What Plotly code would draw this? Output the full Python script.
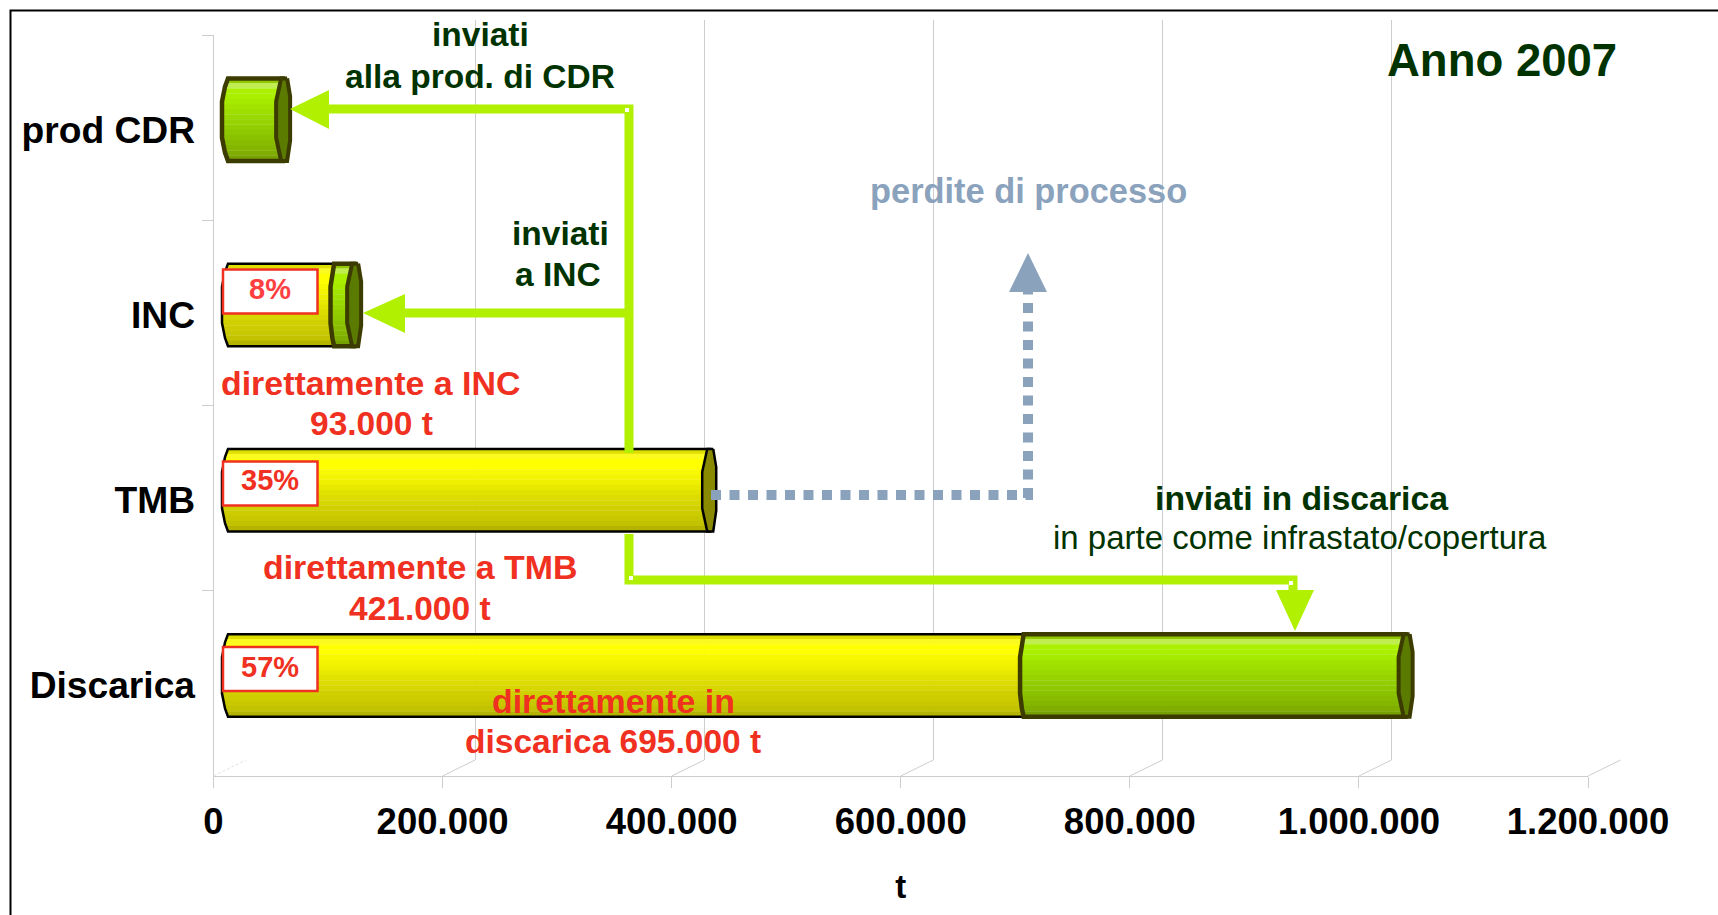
import numpy as np
import plotly.graph_objects as go

W, H = 1718, 915
categories = ["Discarica", "TMB", "INC", "prod CDR"]
direct_values = [695000, 421000, 93000, 0]
sent_values = [334000, 0, 18000, 49000]
x_ticks = [0, 200000, 400000, 600000, 800000, 1000000, 1200000]
x_labels = ["0", "200.000", "400.000", "600.000", "800.000", "1.000.000", "1.200.000"]
share_labels = ["57%", "35%", "8%"]
yellow_bands = ['#dede00','#fafa20','#ffff00','#ffff00','#f8f800','#f4f400','#efef00','#e8e800',
                '#e2e200','#dcdc00','#d6d600','#d0d000','#cccc00','#c8c800','#c2c200','#b4b400']
green_bands = ['#92c800','#c0ee50','#aaf000','#aaef00','#a6ea00','#a2e400','#9edf00','#9ad900',
               '#96d300','#92cd00','#8ec800','#8ac200','#88bc00','#84b600','#80ae00','#76a000']

XMAX = 1200000
XLEAD = 20000             # room left of zero so that the rounded bar ends are not clipped
PX_X = XMAX / 1374.5      # value per pixel along the value axis
PX_Y = 4 / 741.0          # category units per pixel
BAR_H = 82.5 * PX_Y
FONT = "Liberation Sans"
DARK = "#003300"
RED = "#f03020"
LIME = "#b0f000"
SLATE = "#8aa2bc"
GRID = "#cdcdcd"


def px(v):
    return v / W


def py(v):
    return 1 - v / H


def dom_x(a, b):
    return [a / W, b / W]


def dom_y(top, bottom):
    return [1 - bottom / H, 1 - top / H]


def edge_off(t, scale=1.0):
    return float(np.interp(t, [0, .1, .28, .72, .9, 1], [1, -2, -5, -5, -2, 1])) * scale * PX_X


def joint_scale(start):
    # the joint between two stacked segments bulges less than the far left end
    return 0.6 if start > 0 else 1.0


fig = go.Figure()

# back wall grid subplot and front axes subplot
fig.add_trace(go.Scatter(x=x_ticks, y=[0] * len(x_ticks), mode="none", xaxis="x", yaxis="y",
                         hoverinfo="skip", showlegend=False))
fig.add_trace(go.Scatter(x=[0] * 4, y=categories, mode="none", xaxis="x2", yaxis="y2",
                         hoverinfo="skip", showlegend=False))

n = len(yellow_bands)
for i in range(n):
    tc = (i + .5) / n
    off = BAR_H / 2 - (i + 1) / n * BAR_H
    idx = [k for k, v in enumerate(direct_values) if v > 0]
    bases = [edge_off(tc) for k in idx]
    fig.add_trace(go.Bar(
        orientation="h", y=idx, base=bases,
        x=[direct_values[k] - b for k, b in zip(idx, bases)],
        width=BAR_H / n + PX_Y * .3, offset=off, marker=dict(color=yellow_bands[i], line_width=0),
        xaxis="x3", yaxis="y3", hoverinfo="skip", showlegend=False, cliponaxis=False))
for i in range(n):
    tc = (i + .5) / n
    off = BAR_H / 2 - (i + 1) / n * BAR_H
    idx = [k for k, v in enumerate(sent_values) if v > 0]
    insets = [edge_off(tc, joint_scale(direct_values[k])) for k in idx]
    fig.add_trace(go.Bar(
        orientation="h", y=idx, base=[direct_values[k] + b for k, b in zip(idx, insets)],
        x=[sent_values[k] - b for k, b in zip(idx, insets)],
        width=BAR_H / n + PX_Y * .3, offset=off, marker=dict(color=green_bands[i], line_width=0),
        xaxis="x3", yaxis="y3", hoverinfo="skip", showlegend=False, cliponaxis=False))


def outline(k, start, end, color, width):
    ts = [1, .9, .72, .28, .1, 0]
    sc = joint_scale(start)
    xs = [end + 2 * PX_X] + [start + edge_off(t, sc) for t in ts] + [end + 2 * PX_X]
    ys = [k + BAR_H / 2 - 1 * BAR_H] + [k + BAR_H / 2 - t * BAR_H for t in ts] + [k + BAR_H / 2]
    fig.add_trace(go.Scatter(x=xs, y=ys, mode="lines", line=dict(color=color, width=width),
                             xaxis="x3", yaxis="y3", hoverinfo="skip", showlegend=False,
                             cliponaxis=False))


def cap(k, end, fill, color, width):
    pts = [(4, 0), (7, .22), (7, .75), (4, 1), (-2, 1), (-7, .72), (-7, .28), (-2, 0), (4, 0)]
    xs = [end + p[0] * PX_X for p in pts]
    ys = [k + BAR_H / 2 - p[1] * BAR_H for p in pts]
    fig.add_trace(go.Scatter(x=xs, y=ys, mode="lines", fill="toself", fillcolor=fill,
                             line=dict(color=color, width=width), xaxis="x3", yaxis="y3",
                             hoverinfo="skip", showlegend=False, cliponaxis=False))


for k in range(4):
    d, s = direct_values[k], sent_values[k]
    if d > 0:
        outline(k, 0, d, "#000000", 2.5)
    if s > 0:
        outline(k, d, d + s, "#3c3c00", 4.5)
        cap(k, d + s, "#5a7a00", "#3c3c00", 4)
    else:
        cap(k, d, "#8a8a00", "#000000", 2.5)

shapes = []


def poly(points, color, width, dash=None):
    d = "M" + " L".join(f"{px(a):.6f},{py(b):.6f}" for a, b in points)
    line = dict(color=color, width=width)
    if dash:
        line["dash"] = dash
    shapes.append(dict(type="path", path=d, xref="paper", yref="paper", line=line, layer="above"))


def tri(points, color):
    d = "M" + " L".join(f"{px(a):.6f},{py(b):.6f}" for a, b in points) + " Z"
    shapes.append(dict(type="path", path=d, xref="paper", yref="paper", fillcolor=color,
                       line=dict(width=0), layer="above"))


def dot(a, b, s=4):
    shapes.append(dict(type="rect", xref="paper", yref="paper", x0=px(a - s / 2), x1=px(a + s / 2),
                       y0=py(b + s / 2), y1=py(b - s / 2), fillcolor="white", line=dict(width=0),
                       layer="above"))


# frame
poly([(W, 10.5), (10.5, 10.5), (10.5, H)], "#000000", 2)
# floor diagonals between front axis and back wall
for i, t in enumerate(x_ticks):
    fx = 213.5 + i * 229.1
    poly([(fx, 776), (fx + 32.5, 760)], "#e4e4e4" if i == 0 else GRID, 1, "3px,2px" if i == 0 else None)

# connectors
poly([(328, 109), (629, 109), (629, 453)], LIME, 9)
poly([(405, 313), (629, 313)], LIME, 9)
poly([(629, 534), (629, 580), (1293, 580), (1293, 592)], LIME, 9)
tri([(290, 109), (329, 90), (329, 129)], LIME)
tri([(363, 313), (405, 294), (405, 333)], LIME)
tri([(1295, 631), (1276, 590), (1314, 590)], LIME)
dot(631, 578)
dot(1291, 583)
dot(627, 110)
poly([(711, 495), (1033, 495)], SLATE, 10, "10px,8.5px")
poly([(1028, 498), (1028, 292)], SLATE, 10, "10px,8.5px")
tri([(1028, 253), (1009, 292), (1047, 292)], SLATE)

annotations = []


def note(text, a, b, size, color, bold=True, **kw):
    annotations.append(dict(text=text, x=px(a), y=py(b), xref="paper", yref="paper",
                            xanchor="center", yanchor="middle", showarrow=False,
                            font=dict(family=FONT, size=size, color=color,
                                      weight="bold" if bold else "normal"), **kw))


note("Anno 2007", 1502, 61, 45.5, DARK)
note("inviati", 480, 34, 33.5, DARK)
note("alla prod. di CDR", 480, 76, 33.5, DARK)
note("inviati", 560, 233, 33.5, DARK)
note("a INC", 558, 274, 33.5, DARK)
note("perdite di processo", 1028, 191, 34.4, SLATE)
note("direttamente a INC", 370, 383, 33.9, RED)
note("93.000 t", 371, 424, 33.5, RED)
note("direttamente a TMB", 420, 567, 33.9, RED)
note("421.000 t", 420, 608, 33.5, RED)
note("direttamente in", 613.5, 701, 33.9, RED)
note("discarica 695.000 t", 612.5, 741.5, 33.5, RED)
note("inviati in discarica", 1301.5, 498.5, 33.8, DARK)
note("in parte come infrastato/copertura", 1299.5, 537.5, 33, DARK, bold=False)

# share boxes: white rectangle with a red border, then its label
box_y = [669, 483.5, 291.5]
text_y = [667, 480, 289]
box_color = [RED, RED, "#ff4040"]
for lab, yb, yt, col in zip(share_labels, box_y, text_y, box_color):
    shapes.append(dict(type="rect", xref="paper", yref="paper", x0=px(223), x1=px(317.5),
                       y0=py(yb + 22), y1=py(yb - 22), fillcolor="white",
                       line=dict(color=RED, width=2.5), layer="above"))
    note(lab, 270, yt, 29, col)

fig.update_layout(
    width=W, height=H, margin=dict(l=0, r=0, t=0, b=0), paper_bgcolor="white", plot_bgcolor="rgba(0,0,0,0)",
    barmode="overlay", showlegend=False, shapes=shapes, annotations=annotations,
    font=dict(family=FONT),
    xaxis=dict(domain=dom_x(246, 1620.5), range=[0, XMAX], tickvals=x_ticks, showticklabels=False,
               showgrid=True, gridcolor=GRID, gridwidth=1, zeroline=False, showline=False, ticks=""),
    yaxis=dict(domain=dom_y(20, 760), range=[0, 1], showgrid=False, zeroline=False, showline=False,
               showticklabels=False, ticks=""),
    xaxis2=dict(domain=dom_x(213.5, 1588), range=[0, XMAX], anchor="y2", tickvals=x_ticks, ticktext=x_labels,
                tickfont=dict(family=FONT, size=36.5, color="#000000", weight="bold"), ticks="outside",
                ticklen=11, tickcolor=GRID, showline=True, linecolor=GRID, linewidth=1, showgrid=False,
                zeroline=False, automargin=False, ticklabelstandoff=2,
                title=dict(text="t", standoff=34, font=dict(family=FONT, size=33, color="#000000", weight="bold"))),
    yaxis2=dict(domain=dom_y(35, 776), type="category", categoryorder="array", categoryarray=categories,
                range=[-.5, 3.5], anchor="x2", tickson="boundaries", ticks="outside", ticklen=11,
                tickcolor=GRID, showline=True, linecolor=GRID, linewidth=1, showgrid=False, zeroline=False,
                automargin=False, ticklabelstandoff=10, ticklabelshift=2,
                tickfont=dict(family=FONT, size=37.2, color="#000000", weight="bold")),
    xaxis3=dict(domain=dom_x(227 - XLEAD / PX_X, 1601.5), range=[-XLEAD, XMAX], anchor="y3", visible=False),
    yaxis3=dict(domain=dom_y(27, 768), range=[-.5, 3.5], anchor="x3", visible=False),
)

fig.write_html("out.html", post_script="document.body.style.margin='0';",
               config=dict(displayModeBar=False))
